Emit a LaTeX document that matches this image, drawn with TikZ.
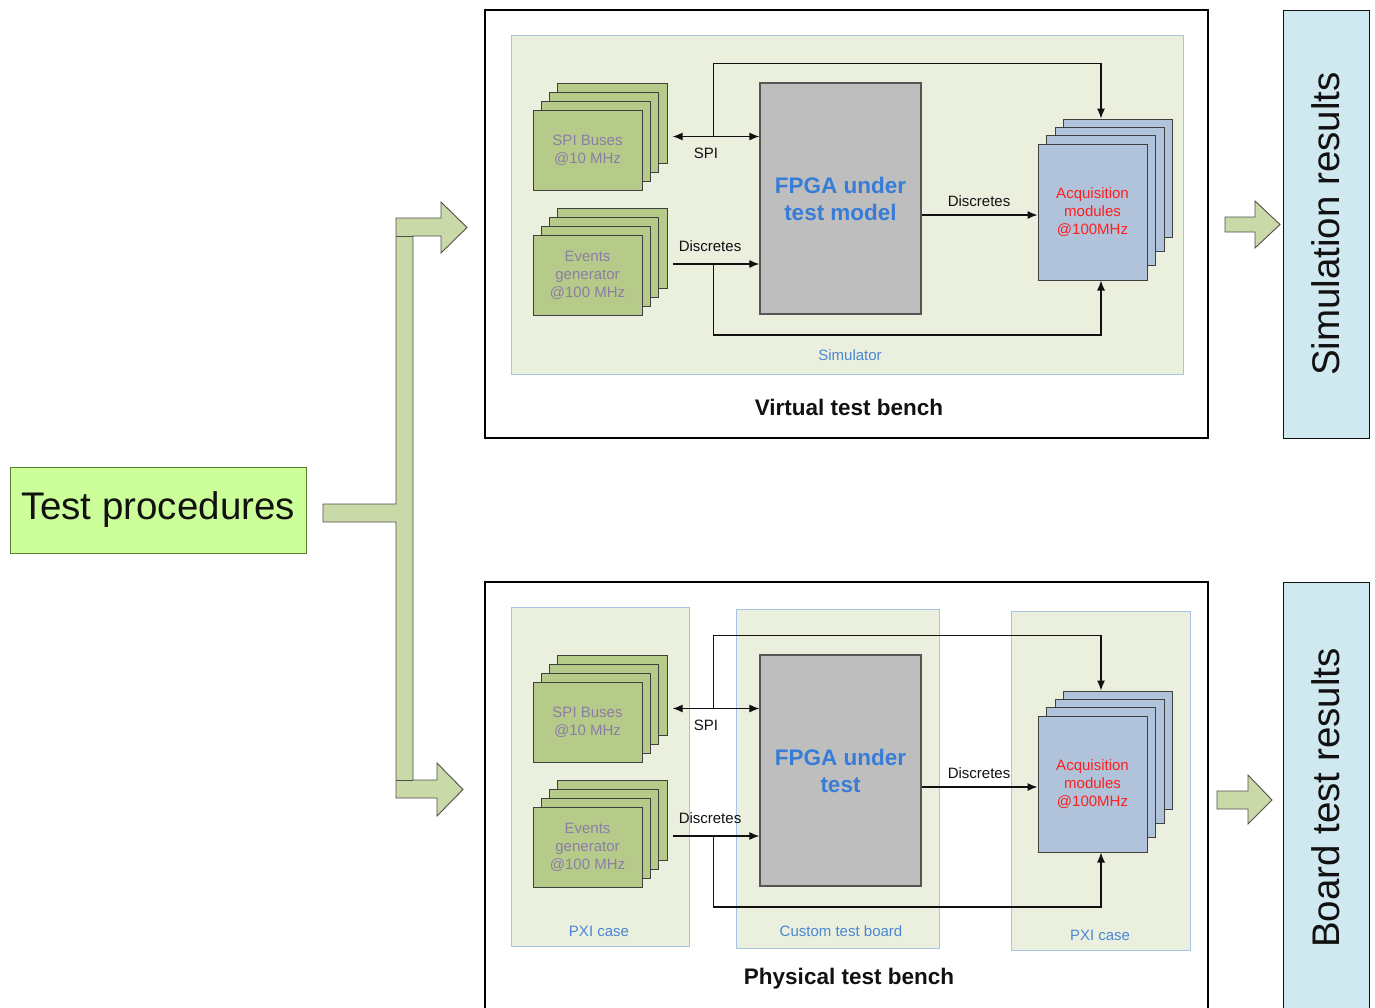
\documentclass[tikz,border=0pt]{standalone}
\usepackage{fontspec}
\setsansfont{Liberation Sans}
\usetikzlibrary{arrows.meta,positioning,fit,calc}
\definecolor{ink}{HTML}{111111}
\definecolor{procbg}{HTML}{CCFF99}
\definecolor{procedge}{HTML}{5B7F2E}
\definecolor{fatbg}{HTML}{CAD9A8}
\definecolor{fatedge}{HTML}{505050}
\definecolor{regionbg}{HTML}{EBEFDE}
\definecolor{regionedge}{HTML}{A6C3E8}
\definecolor{regiontext}{HTML}{4A86D4}
\definecolor{cardbg}{HTML}{B6CB8A}
\definecolor{cardedge}{HTML}{404040}
\definecolor{cardtext}{HTML}{8C7DA5}
\definecolor{acqbg}{HTML}{B0C3DB}
\definecolor{acqtext}{HTML}{FF1F1F}
\definecolor{fpgabg}{HTML}{BEBEBE}
\definecolor{fpgaedge}{HTML}{555555}
\definecolor{fpgatext}{HTML}{377DD7}
\definecolor{resultbg}{HTML}{D0E8EF}

\begin{document}
\begin{tikzpicture}[
  x=1pt,y=-1pt,
  font=\sffamily,
  bigtext/.style={font=\sffamily\fontsize{38.5}{40}\selectfont,text=ink},
  procbox/.style={draw=procedge,fill=procbg,line width=1pt,minimum width=296pt,minimum height=86pt,bigtext},
  result/.style={draw=ink,fill=resultbg,line width=1pt,rotate=90,minimum width=428pt,minimum height=86pt,bigtext},
  bench/.style={draw=black,line width=2.2pt},
  benchtitle/.style={font=\sffamily\bfseries\fontsize{22.5}{25}\selectfont,text=ink},
  region/.style={draw=regionedge,fill=regionbg,line width=.9pt},
  regiontitle/.style={font=\sffamily\fontsize{15}{18}\selectfont,text=regiontext},
  card/.style={draw=cardedge,fill=cardbg,line width=1pt,minimum width=109pt,minimum height=80pt,
    inner sep=0pt,align=center,font=\sffamily\fontsize{15}{18}\selectfont,text=cardtext},
  acqcard/.style={card,fill=acqbg,minimum height=136pt,text=acqtext},
  fpga/.style={draw=fpgaedge,fill=fpgabg,line width=1.3pt,minimum width=161pt,minimum height=231pt,
    align=center,font=\sffamily\bfseries\fontsize{22.5}{27}\selectfont,text=fpgatext},
  fat/.style={draw=fatedge,fill=fatbg,line width=.9pt},
  wire/.style={-{Latex[length=10pt,width=8pt]},line width=1.1pt,draw=ink},
  biwire/.style={wire,{Latex[length=10pt,width=8pt]}-{Latex[length=10pt,width=8pt]}},
  wirelabel/.style={font=\sffamily\fontsize{15}{18}\selectfont,text=ink}
]
\useasboundingbox (0,0) rectangle (1375,1007);
\clip (0,0) rectangle (1375,1007);

% Test procedures and fan-out
\node[procbox] (proc) at (158,510) {Test procedures};
\filldraw[fat] (323,504) -- (396,504) -- (396,218) -- (441,218) -- (441,202) -- (467,227.5)
  -- (441,253) -- (441,236) -- (413,236) -- (413,780) -- (437,780) -- (437,763) -- (463,789.5)
  -- (437,816) -- (437,798) -- (396,798) -- (396,522) -- (323,522) -- cycle;
\draw[fatedge,line width=.6pt] (396,236) -- (413,236) (396,780) -- (413,780);

% Virtual test bench
\draw[bench] (485,10) rectangle (1208,438);
\filldraw[region] (511,35) rectangle (1183,374);
\node[regiontitle] (simlabel) at (850,355) {Simulator};
\node[benchtitle] (vtitle) at (849,407) {Virtual test bench};

\foreach \i in {3,2,1} {
  \node[card] (spiv-\i) at ({587.5+8.33*\i},{150-9*\i}) {};
  \node[card] (evv-\i) at ({587.5+8.33*\i},{275-9*\i}) {};
  \node[acqcard,minimum height={(136-6*\i)*1pt}] (acqv-\i) at ({1092.5+8.5*\i},{212-11.33*\i}) {};
}
\node[card] (spiv) at (587.5,150) {SPI Buses\\@10 MHz};
\node[card] (evv) at (587.5,275) {Events\\generator\\@100 MHz};
\node[acqcard] (acqv) at (1092.5,212) {Acquisition\\modules\\@100MHz};
\node[fpga] (fpgav) at (840.5,198.5) {FPGA under\\test model};
\node[fit=(spiv)(spiv-3),inner sep=0pt] (spivstack) {};
\node[fit=(evv)(evv-3),inner sep=0pt] (evvstack) {};

\coordinate (spivtap) at ($(spivstack.east)!.5!(spivstack.east -| fpgav.west)$);
\coordinate (evvtap) at ($(evvstack.east)!.5!(evvstack.east -| fpgav.west)$);
\draw[biwire] ([xshift=5pt]spivstack.east) -- (spivstack.east -| fpgav.west);
\draw[wire] ([xshift=5pt,yshift=-2.5pt]evvstack.east) -- ([yshift=-2.5pt]evvstack.east -| fpgav.west);
\draw[wire] (spivtap) -- ++(0,-73) -| ([xshift=8.5pt]acqv.north |- acqv-3.north);
\draw[wire] ([yshift=-2.5pt]evvtap) -- ++(0,71) -| ([xshift=8.5pt]acqv.south);
\draw[wire] ([yshift=-3pt]fpgav.east |- acqv.west) -- ([yshift=-3pt]acqv.west);
\node[wirelabel] (spivlabel) at (706,153) {SPI};
\node[wirelabel] (evvlabel) at (710,246) {Discretes};
\node[wirelabel] (outvlabel) at (979,201) {Discretes};

% Physical test bench
\draw[bench] (485,582) rectangle (1208,1020);
\filldraw[region] (511,607) rectangle (689,946);
\filldraw[region] (736,609) rectangle (939,948);
\filldraw[region] (1011,611) rectangle (1190,950);
\node[regiontitle] (pxileft) at (599,931) {PXI case};
\node[regiontitle] (boardlabel) at (841,931) {Custom test board};
\node[regiontitle] (pxiright) at (1100,935) {PXI case};
\node[benchtitle] (ptitle) at (849,979) {Physical test bench};

\foreach \i in {3,2,1} {
  \node[card] (spip-\i) at ({587.5+8.33*\i},{722-9*\i}) {};
  \node[card] (evp-\i) at ({587.5+8.33*\i},{847-9*\i}) {};
  \node[acqcard,minimum height={(136-6*\i)*1pt}] (acqp-\i) at ({1092.5+8.5*\i},{784-11.33*\i}) {};
}
\node[card] (spip) at (587.5,722) {SPI Buses\\@10 MHz};
\node[card] (evp) at (587.5,847) {Events\\generator\\@100 MHz};
\node[acqcard] (acqp) at (1092.5,784) {Acquisition\\modules\\@100MHz};
\node[fpga] (fpgap) at (840.5,770.5) {FPGA under\\test};
\node[fit=(spip)(spip-3),inner sep=0pt] (spipstack) {};
\node[fit=(evp)(evp-3),inner sep=0pt] (evpstack) {};

\coordinate (spiptap) at ($(spipstack.east)!.5!(spipstack.east -| fpgap.west)$);
\coordinate (evptap) at ($(evpstack.east)!.5!(evpstack.east -| fpgap.west)$);
\draw[biwire] ([xshift=5pt]spipstack.east) -- (spipstack.east -| fpgap.west);
\draw[wire] ([xshift=5pt,yshift=-2.5pt]evpstack.east) -- ([yshift=-2.5pt]evpstack.east -| fpgap.west);
\draw[wire] (spiptap) -- ++(0,-73) -| ([xshift=8.5pt]acqp.north |- acqp-3.north);
\draw[wire] ([yshift=-2.5pt]evptap) -- ++(0,71) -| ([xshift=8.5pt]acqp.south);
\draw[wire] ([yshift=-3pt]fpgap.east |- acqp.west) -- ([yshift=-3pt]acqp.west);
\node[wirelabel] (spiplabel) at (706,725) {SPI};
\node[wirelabel] (evplabel) at (710,818) {Discretes};
\node[wirelabel] (outplabel) at (979,773) {Discretes};

% Results
\node[result] (simres) at (1326,224) {Simulation results};
\node[result,minimum width=432pt] (boardres) at (1326,798) {Board test results};
\filldraw[fat] (1225,217) -- (1255,217) -- (1255,201) -- (1280,224.5) -- (1255,248) -- (1255,232) -- (1225,232) -- cycle;
\filldraw[fat] (1217,791) -- (1248,791) -- (1248,775) -- (1272,800) -- (1248,824) -- (1248,809) -- (1217,809) -- cycle;
\end{tikzpicture}
\end{document}
